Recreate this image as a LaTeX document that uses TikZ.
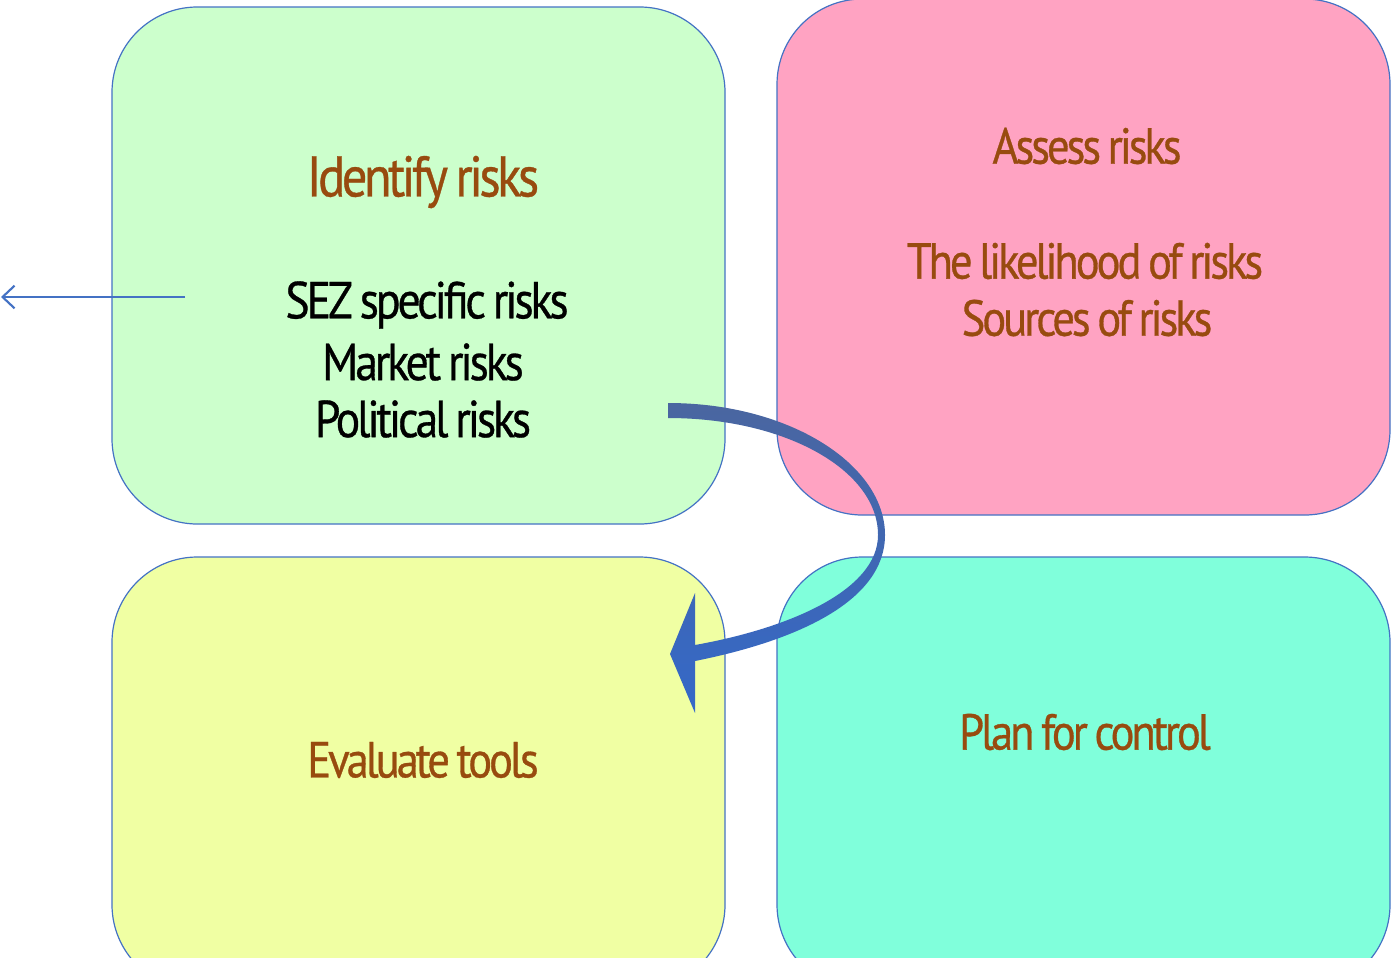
\documentclass[tikz,border=0pt]{standalone}
\usepackage{fontspec}
\setmainfont{PT Sans}[FakeStretch=0.88,LetterSpace=-6,WordSpace=0.75,FakeBold=0.6]
\usetikzlibrary{arrows.meta}
\definecolor{bordblue}{HTML}{4472C4}
\definecolor{gfill}{HTML}{CCFFCC}
\definecolor{pfill}{HTML}{FFA3C2}
\definecolor{yfill}{HTML}{F0FFA3}
\definecolor{cfill}{HTML}{80FFDB}
\definecolor{brown}{HTML}{984B0F}
\definecolor{arrtop}{HTML}{4A66A0}
\definecolor{arrbot}{HTML}{3468C8}
\tikzset{
  panel/.style={draw=bordblue, line width=0.9pt, rounded corners=64pt, inner sep=0pt, outer sep=0pt, minimum width=459.75pt},
  title/.style={text=brown, font=\fontsize{43}{50}\selectfont, inner sep=0pt, anchor=center},
  subtitle/.style={text=brown, font=\fontsize{38}{45}\selectfont, inner sep=0pt, anchor=center},
  item/.style={text=black, font=\fontsize{39}{46}\selectfont, inner sep=0pt, anchor=center},
}
\begin{document}
\begin{tikzpicture}[x=0.75pt,y=-0.75pt]
\useasboundingbox (0,0) rectangle (1391,957);
% panels
\node[panel, fill=gfill, minimum height=387.75pt] (green) at (418.5,265.5) {};
\node[panel, fill=pfill, minimum height=387pt] (pink) at (1083.5,257) {};
\node[panel, fill=yfill, minimum height=324.75pt] (yellow) at (418.5,773.5) {};
\node[panel, fill=cfill, minimum height=324.75pt] (cyan) at (1083.5,773.5) {};
% texts
\node[title] (ident) at (423,182) {Identify risks};
\node[item] (sez) at (427,305) {SEZ specific risks};
\node[item] (mkt) at (423,362) {Market risks};
\node[item] (pol) at (423,419) {Political risks};
\node[subtitle] (assess) at (1087,146) {Assess risks};
\node[subtitle] (like) at (1085,261) {The likelihood of risks};
\node[subtitle] (src) at (1087,318) {Sources of risks};
\node[subtitle] (eval) at (423,760) {Evaluate tools};
\node[subtitle] (plan) at (1085,732) {Plan for control};
% left arrow
\coordinate (lstart) at (185,297);
\coordinate (lend) at (1,297);
\draw[bordblue, line width=1.6pt, -{Straight Barb[length=9pt,width=17pt,line width=1.6pt]}] (lstart) -- (lend);
% curved arrow
\shade[top color=arrtop, bottom color=arrbot]
  (668,403) .. controls (790,403) and (885,465) .. (885,535)
  .. controls (885,600) and (800,640) .. (695,661)
  -- (695,713) -- (670,654) -- (695,593) -- (695,645)
  .. controls (790,628) and (878,590) .. (878,535)
  .. controls (878,470) and (785,418) .. (668,418) -- cycle;
\end{tikzpicture}
\end{document}
